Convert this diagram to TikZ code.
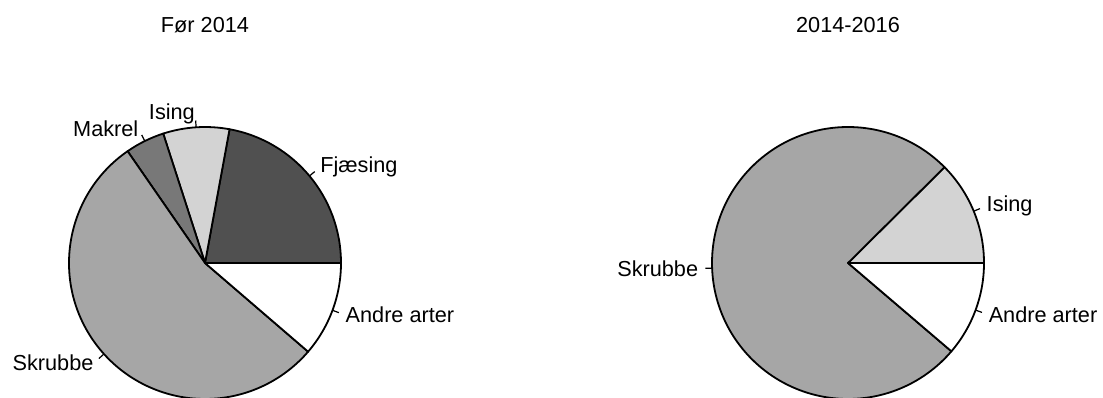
\documentclass[tikz,border=0pt]{standalone}
\usepackage{fontspec}
\setmainfont{Liberation Sans}

\definecolor{fjaesing}{HTML}{505050}
\definecolor{ising}{HTML}{D3D3D3}
\definecolor{makrel}{HTML}{787878}
\definecolor{skrubbe}{HTML}{A6A6A6}

\tikzset{
  slice/.style={draw=black, line width=0.9pt, line join=round},
  tickline/.style={line width=0.6pt},
  lbl/.style={inner sep=0pt, font=\fontsize{10.85}{13}\selectfont},
}

\begin{document}
\begin{tikzpicture}[x=0.5pt,y=0.5pt]
\clip (0,0) rectangle (1103,397);
\fill[white] (0,0) rectangle (1103,397);

% left pie
\node[lbl] (titleA) at (205,372) {Før 2014};
\coordinate (cA) at (205,134);

\filldraw[slice, fill=fjaesing] (cA) -- ++(0:136) arc[start angle=0, end angle=79.6, radius=136] -- cycle;
\filldraw[slice, fill=ising] (cA) -- ++(79.6:136) arc[start angle=79.6, end angle=107.9, radius=136] -- cycle;
\filldraw[slice, fill=makrel] (cA) -- ++(107.9:136) arc[start angle=107.9, end angle=124.7, radius=136] -- cycle;
\filldraw[slice, fill=skrubbe] (cA) -- ++(124.7:136) arc[start angle=124.7, end angle=319.3, radius=136] -- cycle;
\filldraw[slice, fill=white] (cA) -- ++(319.3:136) arc[start angle=319.3, end angle=360, radius=136] -- cycle;

\draw[tickline] ([shift={(39.8:136)}]cA) -- ([shift={(39.8:142.8)}]cA);
\draw[tickline] ([shift={(93.75:136)}]cA) -- ([shift={(93.75:142.8)}]cA);
\draw[tickline] ([shift={(116.3:136)}]cA) -- ([shift={(116.3:142.8)}]cA);
\draw[tickline] ([shift={(222:136)}]cA) -- ([shift={(222:142.8)}]cA);
\draw[tickline] ([shift={(339.65:136)}]cA) -- ([shift={(339.65:142.8)}]cA);

\node[lbl, anchor=west] (fjA) at ([shift={(39.8:149.6)}]cA) {Fjæsing};
\node[lbl, anchor=east] (isA) at ([shift={(93.75:149.6)}]cA) {Ising};
\node[lbl, anchor=east] (maA) at ([shift={(116.3:149.6)}]cA) {Makrel};
\node[lbl, anchor=east] (skA) at ([shift={(222:149.6)}]cA) {Skrubbe};
\node[lbl, anchor=west] (anA) at ([shift={(339.65:149.6)}]cA) {Andre arter};

% right pie
\node[lbl] (titleB) at (848,372) {2014-2016};
\coordinate (cB) at (848,134);

\filldraw[slice, fill=ising] (cB) -- ++(0:136) arc[start angle=0, end angle=44.8, radius=136] -- cycle;
\filldraw[slice, fill=skrubbe] (cB) -- ++(44.8:136) arc[start angle=44.8, end angle=319.5, radius=136] -- cycle;
\filldraw[slice, fill=white] (cB) -- ++(319.5:136) arc[start angle=319.5, end angle=360, radius=136] -- cycle;

\draw[tickline] ([shift={(22.4:136)}]cB) -- ([shift={(22.4:142.8)}]cB);
\draw[tickline] ([shift={(182.15:136)}]cB) -- ([shift={(182.15:142.8)}]cB);
\draw[tickline] ([shift={(339.75:136)}]cB) -- ([shift={(339.75:142.8)}]cB);

\node[lbl, anchor=west] (isB) at ([shift={(22.4:149.6)}]cB) {Ising};
\node[lbl, anchor=east] (skB) at ([shift={(182.15:149.6)}]cB) {Skrubbe};
\node[lbl, anchor=west] (anB) at ([shift={(339.75:149.6)}]cB) {Andre arter};

\end{tikzpicture}
\end{document}
